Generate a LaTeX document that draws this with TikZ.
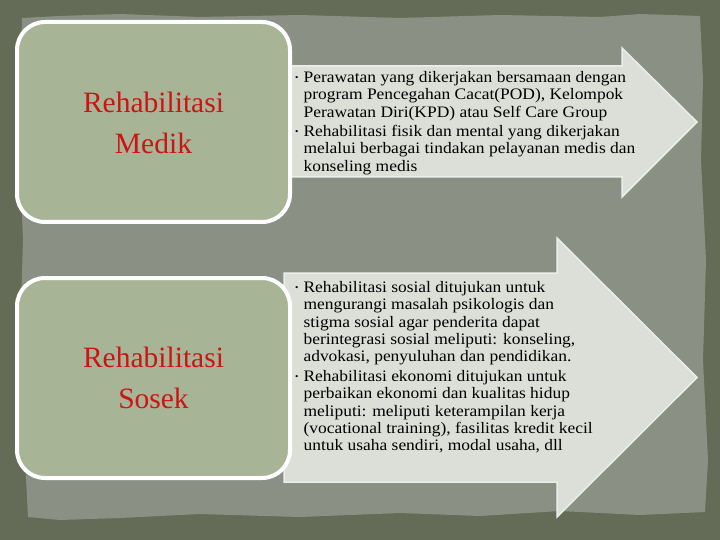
\documentclass[tikz,border=0pt]{standalone}
\usepackage{fontspec}
\setmainfont{Liberation Serif}
\newfontfamily\bodyfont[FakeStretch=1.09]{Liberation Serif}
\definecolor{outerbg}{HTML}{646C58}
\definecolor{paper}{HTML}{8A9184}
\definecolor{boxfill}{HTML}{A7B496}
\definecolor{arrowfill}{HTML}{DCDFD8}
\definecolor{arrowedge}{HTML}{ECEEE8}
\definecolor{titlered}{HTML}{CC1414}
\tikzset{
  catbox/.style={draw=white, line width=4pt, fill=boxfill, rounded corners=28pt},
  bigarrow/.style={draw=arrowedge, line width=1.5pt, fill=arrowfill, line join=miter},
  titletext/.style={text=titlered, font=\fontsize{29.5}{41}\selectfont, align=center},
  bodytext/.style={text=black, font=\bodyfont\fontsize{16}{17.4}\selectfont, anchor=north west, inner sep=0pt}
}
\newcommand{\blt}{\raisebox{2pt}{\scalebox{0.55}{\textbullet}}}
\begin{document}
\begin{tikzpicture}[x=1pt,y=-1pt]
\useasboundingbox (0,0) rectangle (720,540);
% background
\fill[outerbg] (0,0) rectangle (720,540);
\fill[paper] (22,18) -- (60,16) -- (120,14) -- (200,17) -- (300,15) -- (400,18) -- (500,15) -- (600,17) -- (640,14) -- (700,16)
  -- (703,80) -- (701,160) -- (706,260) -- (703,360) -- (708,460) -- (705,512)
  -- (640,515) -- (560,511) -- (480,516) -- (400,513) -- (300,517) -- (200,514) -- (120,518) -- (60,520) -- (28,517)
  -- (24,440) -- (20,340) -- (23,240) -- (19,140) -- (21,60) -- cycle;
% arrows
\draw[bigarrow] (284,66) coordinate (a1) -- (622,66) -- (622,48) -- (697,122) -- (622,197) -- (622,177) -- (284,177) -- cycle;
\draw[bigarrow] (284,273) coordinate (a2) -- (557,273) -- (557,238) -- (697,377.5) -- (557,517) -- (557,482) -- (284,482) -- cycle;
% boxes
\draw[catbox] (17,22) rectangle (290,222);
\draw[catbox] (17,278) rectangle (290,478);
\node[titletext] (t1) at (153.5,123) {Rehabilitasi\\Medik};
\node[titletext] (t2) at (153.5,378) {Rehabilitasi\\Sosek};
% texts
\node[bodytext] (b1) at (295,70) {%
\begin{tabular}{@{}l@{\hspace{5pt}}l@{}}
\blt & Perawatan yang dikerjakan bersamaan dengan\\
 & program Pencegahan Cacat(POD), Kelompok\\
 & Perawatan Diri(KPD) atau Self Care Group\\[2pt]
\blt & Rehabilitasi fisik dan mental yang dikerjakan\\
 & melalui berbagai tindakan pelayanan medis dan\\
 & konseling medis
\end{tabular}};
\node[bodytext] (b2) at (295,280) {%
\begin{tabular}{@{}l@{\hspace{5pt}}l@{}}
\blt & Rehabilitasi sosial ditujukan untuk\\
 & mengurangi masalah psikologis dan\\
 & stigma sosial agar penderita dapat\\
 & berintegrasi sosial meliputi: konseling,\\
 & advokasi, penyuluhan dan pendidikan.\\[2pt]
\blt & Rehabilitasi ekonomi ditujukan untuk\\
 & perbaikan ekonomi dan kualitas hidup\\
 & meliputi: meliputi keterampilan kerja\\
 & (vocational training), fasilitas kredit kecil\\
 & untuk usaha sendiri, modal usaha, dll
\end{tabular}};
\end{tikzpicture}
\end{document}
